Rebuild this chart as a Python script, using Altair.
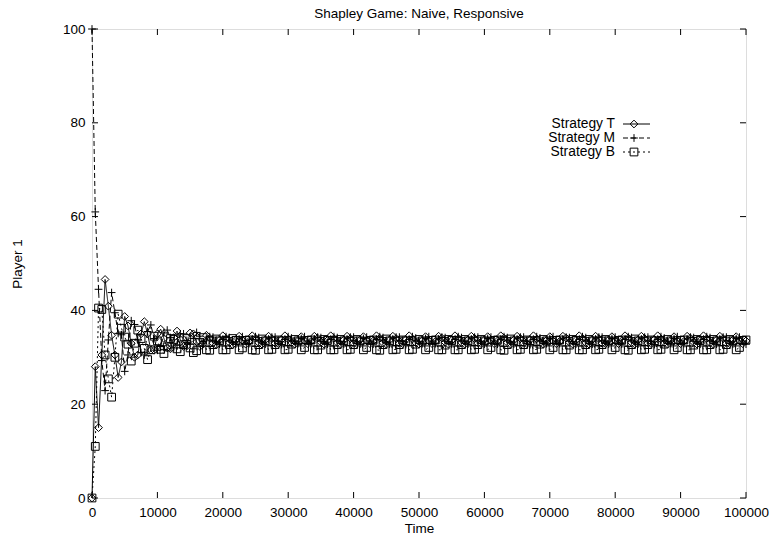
import altair as alt
import pandas as pd

# Sample times (every 500 steps from 0 to 100000)
time_steps = list(range(0, 100001, 500))

strategy_t = [
    0, 28, 15, 30.5, 46.6, 40.9, 34.7, 30.5, 25.7, 29,
    38.7, 36.7, 33, 30, 30.5, 35, 37.6, 35, 31.5, 31.5,
    35.0, 36.0, 34.0, 32.0, 31.8, 34.2, 35.6, 33.8, 32.3, 32.4,
    35.2, 35.0, 33.3, 32.3, 32.8, 34.7, 34.1, 33.0, 32.7, 33.7,
    34.6, 34.0, 33.1, 32.7, 33.6, 34.5, 33.6, 32.8, 33.4,
    34.6, 34.1, 33.1, 32.8, 33.7, 34.5, 34.0, 33.0, 32.9, 33.8,
    34.6, 33.9, 33.1, 32.8, 33.6, 34.4, 33.5, 32.9, 33.4,
    34.5, 34.1, 33.2, 32.8, 33.6, 34.6, 34.0, 33.1, 32.8, 33.7,
    34.5, 34.0, 33.0, 32.9, 33.7, 34.4, 33.6, 32.9, 33.5,
    34.6, 34.1, 33.1, 32.8, 33.7, 34.5, 34.0, 33.0, 32.9, 33.8,
    34.6, 33.9, 33.1, 32.8, 33.6, 34.4, 33.5, 32.9, 33.4,
    34.5, 34.1, 33.2, 32.8, 33.6, 34.6, 34.0, 33.1, 32.8, 33.7,
    34.5, 34.0, 33.0, 32.9, 33.7, 34.4, 33.6, 32.9, 33.5,
    34.6, 34.1, 33.1, 32.8, 33.7, 34.5, 34.0, 33.0, 32.9, 33.8,
    34.6, 33.9, 33.1, 32.8, 33.6, 34.4, 33.5, 32.9, 33.4,
    34.5, 34.1, 33.2, 32.8, 33.6, 34.6, 34.0, 33.1, 32.8, 33.7,
    34.5, 34.0, 33.0, 32.9, 33.7, 34.4, 33.6, 32.9, 33.5,
    34.6, 34.1, 33.1, 32.8, 33.7, 34.5, 34.0, 33.0, 32.9, 33.8,
    34.6, 33.9, 33.1, 32.8, 33.6, 34.4, 33.5, 32.9, 33.4,
    34.5, 34.1, 33.2, 32.8, 33.6, 34.6, 34.0, 33.1, 32.8, 33.7,
    34.5, 34.0, 33.0, 32.9, 33.7, 34.4, 33.6, 32.9, 33.5,
]

strategy_m = [
    100, 61, 44.5, 29.3, 22.9, 33.7, 43.8, 39.5, 35.1, 34.8,
    27, 30.5, 37.8, 37, 33.7, 31, 30.5, 35.5, 36.9, 34,
    31.5, 32.3, 35.2, 35.8, 34.2, 32.0, 32.6, 35.0, 35.0, 33.6,
    32.8, 34.0, 35.3, 34.5, 33.0, 33.7, 34.4, 34.3, 33.4, 32.8,
    33.8, 34.4, 34.2, 33.3, 32.8, 33.9, 34.4, 33.6, 32.9,
    33.8, 34.4, 34.2, 33.3, 32.8, 33.9, 34.3, 34.3, 33.4, 32.7,
    33.8, 34.4, 34.1, 33.4, 32.9, 34.0, 34.4, 33.5, 32.9,
    33.9, 34.3, 34.2, 33.4, 32.8, 33.8, 34.4, 34.2, 33.4, 32.8,
    33.9, 34.3, 34.3, 33.3, 32.8, 34.0, 34.3, 33.5, 32.8,
    33.8, 34.4, 34.2, 33.3, 32.8, 33.9, 34.3, 34.3, 33.4, 32.7,
    33.8, 34.4, 34.1, 33.4, 32.9, 34.0, 34.4, 33.5, 32.9,
    33.9, 34.3, 34.2, 33.4, 32.8, 33.8, 34.4, 34.2, 33.4, 32.8,
    33.9, 34.3, 34.3, 33.3, 32.8, 34.0, 34.3, 33.5, 32.8,
    33.8, 34.4, 34.2, 33.3, 32.8, 33.9, 34.3, 34.3, 33.4, 32.7,
    33.8, 34.4, 34.1, 33.4, 32.9, 34.0, 34.4, 33.5, 32.9,
    33.9, 34.3, 34.2, 33.4, 32.8, 33.8, 34.4, 34.2, 33.4, 32.8,
    33.9, 34.3, 34.3, 33.3, 32.8, 34.0, 34.3, 33.5, 32.8,
    33.8, 34.4, 34.2, 33.3, 32.8, 33.9, 34.3, 34.3, 33.4, 32.7,
    33.8, 34.4, 34.1, 33.4, 32.9, 34.0, 34.4, 33.5, 32.9,
    33.9, 34.3, 34.2, 33.4, 32.8, 33.8, 34.4, 34.2, 33.4, 32.8,
    33.9, 34.3, 34.3, 33.3, 32.8, 34.0, 34.3, 33.5, 32.8,
]

strategy_b = [
    0, 11, 40.5, 40.2, 30.5, 25.4, 21.5, 30, 39.2, 36.2,
    34.3, 32.8, 29.2, 33, 35.8, 34, 31.9, 29.5, 31.6, 34.5,
    33.5, 31.7, 30.8, 32.2, 34.0, 33.8, 31.8, 31.2, 32.7, 34.0,
    32.0, 31.0, 31.4, 33.2, 34.2, 31.6, 31.5, 32.7, 33.9, 33.5,
    31.6, 31.6, 32.7, 34.0, 33.6, 31.6, 32.0, 33.6, 33.7,
    31.6, 31.5, 32.7, 33.9, 33.5, 31.6, 31.7, 32.7, 33.7, 33.5,
    31.6, 31.7, 32.8, 33.8, 33.5, 31.6, 32.1, 33.6, 33.7,
    31.6, 31.6, 32.6, 33.8, 33.6, 31.6, 31.6, 32.7, 33.8, 33.5,
    31.6, 31.7, 32.7, 33.8, 33.5, 31.6, 32.1, 33.6, 33.7,
    31.6, 31.5, 32.7, 33.9, 33.5, 31.6, 31.7, 32.7, 33.7, 33.5,
    31.6, 31.7, 32.8, 33.8, 33.5, 31.6, 32.1, 33.6, 33.7,
    31.6, 31.6, 32.6, 33.8, 33.6, 31.6, 31.6, 32.7, 33.8, 33.5,
    31.6, 31.7, 32.7, 33.8, 33.5, 31.6, 32.1, 33.6, 33.7,
    31.6, 31.5, 32.7, 33.9, 33.5, 31.6, 31.7, 32.7, 33.7, 33.5,
    31.6, 31.7, 32.8, 33.8, 33.5, 31.6, 32.1, 33.6, 33.7,
    31.6, 31.6, 32.6, 33.8, 33.6, 31.6, 31.6, 32.7, 33.8, 33.5,
    31.6, 31.7, 32.7, 33.8, 33.5, 31.6, 32.1, 33.6, 33.7,
    31.6, 31.5, 32.7, 33.9, 33.5, 31.6, 31.7, 32.7, 33.7, 33.5,
    31.6, 31.7, 32.8, 33.8, 33.5, 31.6, 32.1, 33.6, 33.7,
    31.6, 31.6, 32.6, 33.8, 33.6, 31.6, 31.6, 32.7, 33.8, 33.5,
    31.6, 31.7, 32.7, 33.8, 33.5, 31.6, 32.1, 33.6, 33.7,
]

series_names = ["Strategy T", "Strategy M", "Strategy B"]
x_ticks = [0, 10000, 20000, 30000, 40000, 50000, 60000, 70000, 80000, 90000, 100000]
y_ticks = [0, 20, 40, 60, 80, 100]

dash_styles = [[1, 0], [5, 3], [2, 3]]
plus_path = "M-1,0H1M0,-1V1"
marker_shapes = ["diamond", plus_path, "square"]

FONT = "Liberation Sans"
FS = 13.5
KEY_FS = 13.8
KEY_STEP = 14
W, H = 654, 469
TICK = 6

rows = []
for name, vals in zip(series_names, [strategy_t, strategy_m, strategy_b]):
    for t, v in zip(time_steps, vals):
        rows.append({"time": t, "series": name, "value": v})
df = pd.DataFrame(rows)

x_scale = alt.Scale(domain=[0, 100000], nice=False, zero=False)
y_scale = alt.Scale(domain=[0, 100], nice=False)

x_axis = alt.Axis(
    values=x_ticks, ticks=False, domain=False, grid=False, format="d",
    labelFont=FONT, labelFontSize=FS, labelColor="black", labelPadding=7,
    labelFlush=False, labelOverlap=False,
    title="Time", titleFont=FONT, titleFontSize=FS, titleFontWeight="normal",
    titleColor="black", titleX=W / 2, titleY=30, titleBaseline="middle",
)
y_axis = alt.Axis(
    values=y_ticks, ticks=False, domain=False, grid=False, format="d",
    labelFont=FONT, labelFontSize=FS, labelColor="black", labelPadding=7,
    labelFlush=False, labelOverlap=False,
    title="Player 1", titleFont=FONT, titleFontSize=FS, titleFontWeight="normal",
    titleColor="black", titleX=-75, titleY=H / 2, titleAngle=-90,
    titleBaseline="middle", titleAlign="center",
)


def xenc(field):
    return alt.X(field, scale=x_scale, axis=x_axis)


def yenc(field):
    return alt.Y(field, scale=y_scale, axis=y_axis)


base = alt.Chart(df)

lines = base.mark_line(strokeWidth=1, color="black").encode(
    x=xenc("time:Q"),
    y=yenc("value:Q"),
    detail="series:N",
    strokeDash=alt.StrokeDash(
        "series:N", scale=alt.Scale(domain=series_names, range=dash_styles), legend=None
    ),
)

points = base.mark_point(filled=False, color="black", strokeWidth=1, size=60, opacity=1).encode(
    x=xenc("time:Q"),
    y=yenc("value:Q"),
    shape=alt.Shape(
        "series:N", scale=alt.Scale(domain=series_names, range=marker_shapes), legend=None
    ),
)

# Inward-pointing tick marks on all four sides of the frame
xt = alt.Chart(pd.DataFrame({"tick": x_ticks}))
yt = alt.Chart(pd.DataFrame({"tick": y_ticks}))
tick_layers = [
    xt.mark_rule(color="black", strokeWidth=1).encode(
        x=xenc("tick:Q"), y=alt.value(H), y2=alt.value(H - TICK)),
    xt.mark_rule(color="black", strokeWidth=1).encode(
        x=xenc("tick:Q"), y=alt.value(0), y2=alt.value(TICK)),
    yt.mark_rule(color="black", strokeWidth=1).encode(
        y=yenc("tick:Q"), x=alt.value(0), x2=alt.value(TICK)),
    yt.mark_rule(color="black", strokeWidth=1).encode(
        y=yenc("tick:Q"), x=alt.value(W), x2=alt.value(W - TICK)),
]

# Key in the upper right: label, then a line sample with its marker
key_layers = []
for i, name in enumerate(series_names):
    ky = 95 + KEY_STEP * i
    kd = alt.Chart(pd.DataFrame({"label": [name]}))
    key_layers.append(
        kd.mark_text(align="right", baseline="middle", font=FONT, fontSize=KEY_FS, color="black").encode(
            text="label:N", x=alt.value(523), y=alt.value(ky)))
    key_layers.append(
        kd.mark_rule(color="black", strokeWidth=1, strokeDash=dash_styles[i]).encode(
            x=alt.value(531), x2=alt.value(558), y=alt.value(ky)))
    key_layers.append(
        kd.mark_point(shape=marker_shapes[i], filled=False, color="black", strokeWidth=1,
                      size=60, opacity=1).encode(x=alt.value(542), y=alt.value(ky)))

chart = alt.layer(lines, points, *tick_layers, *key_layers).properties(
    width=W,
    height=H,
    title=alt.TitleParams(
        "Shapley Game: Naive, Responsive", font=FONT, fontSize=FS, fontWeight="normal",
        color="black", anchor="middle", offset=2,
    ),
    padding={"left": 92, "top": 29, "right": 28, "bottom": 42},
    autosize=alt.AutoSizeParams(type="none"),
).configure_view(stroke="black", strokeWidth=1).configure(background="white")

chart.save("out.html", embed_options={"renderer": "svg", "actions": False})
